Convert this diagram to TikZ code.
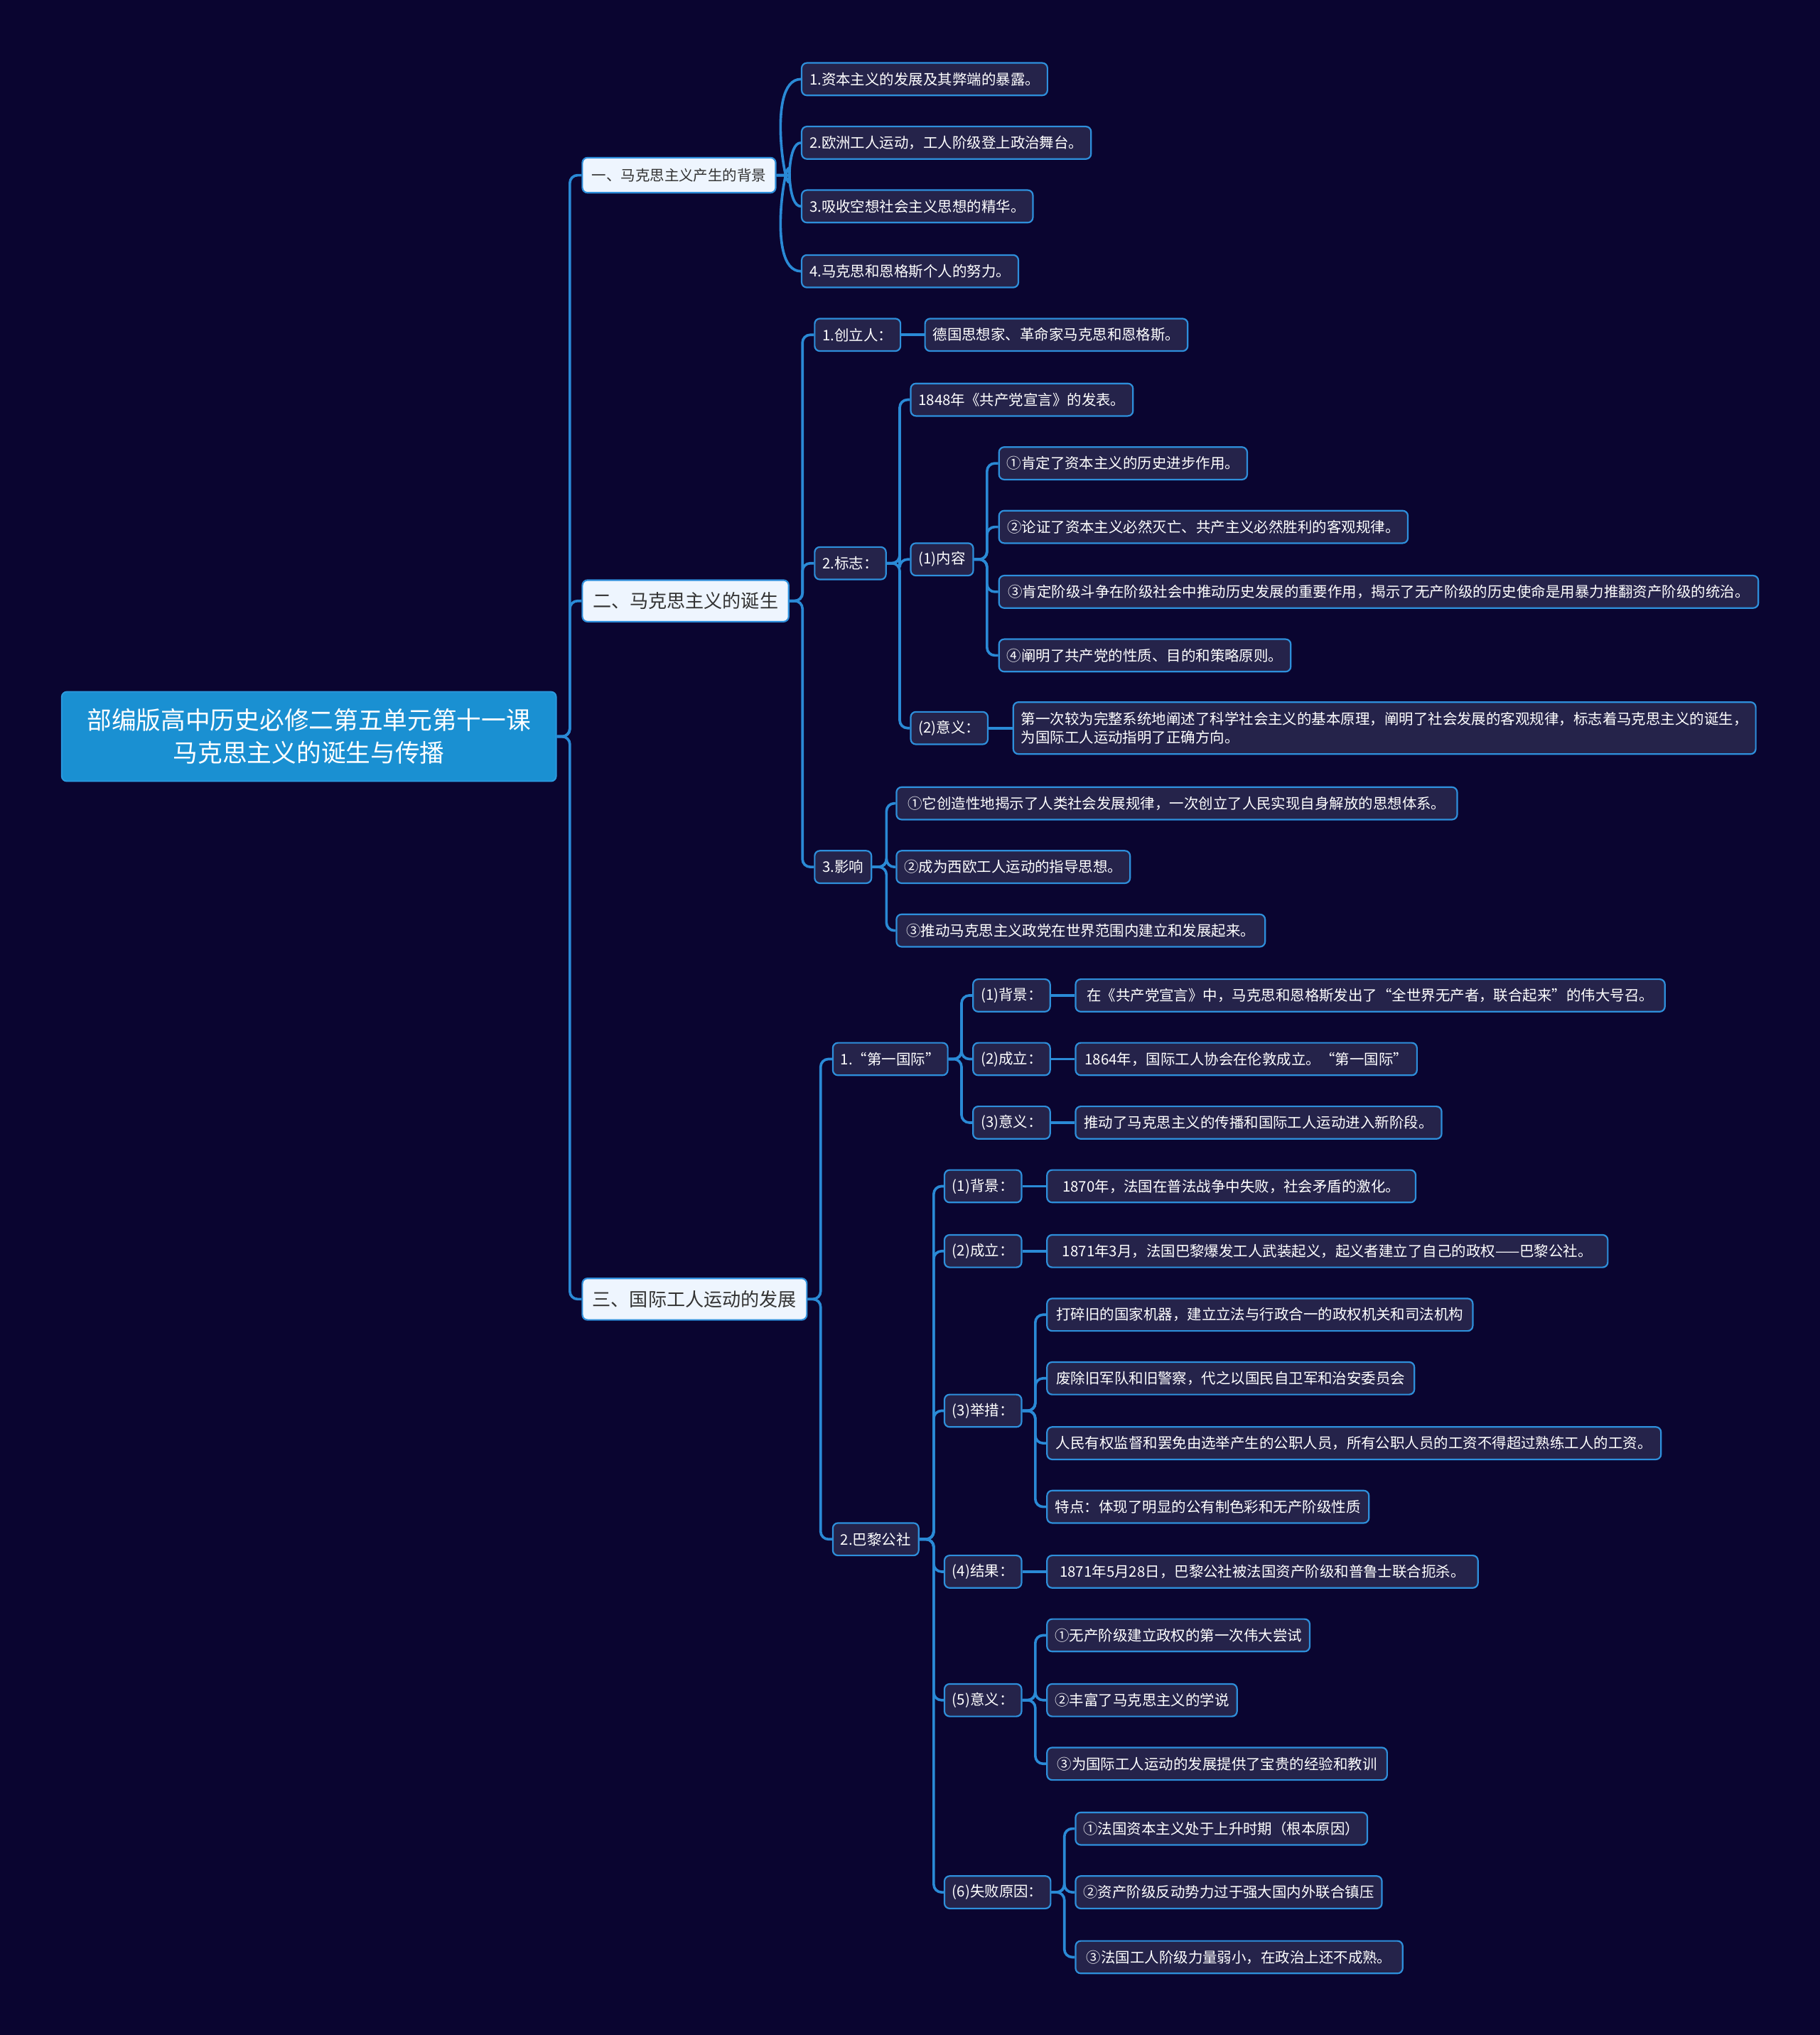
\documentclass[tikz,border=0pt]{standalone}
\usepackage{fontspec}
\newfontfamily\cjk{Noto Sans CJK SC}
\definecolor{bgc}{HTML}{0A0530}
\definecolor{nodefill}{HTML}{25234A}
\definecolor{nodeborder}{HTML}{2E8FDB}
\definecolor{linkc}{HTML}{2A8AD6}
\definecolor{lonefill}{HTML}{EEF5FE}
\definecolor{lonetext}{HTML}{333333}
\definecolor{rootfill}{HTML}{1A90D2}
\definecolor{rootborder}{HTML}{2C9BE0}
\tikzset{
  leaf/.style={font=\cjk\fontsize{11.2}{14}\selectfont, text=white, fill=nodefill, draw=nodeborder,
    line width=1.2pt, rounded corners=4pt, anchor=west, minimum height=25pt, inner xsep=6pt, inner ysep=0pt},
  lone/.style={leaf, fill=lonefill, text=lonetext, minimum height=32pt, font=\cjk\fontsize{14.3}{17}\selectfont},
  lonesmall/.style={lone, minimum height=27pt, font=\cjk\fontsize{11.2}{14}\selectfont},
  rootbox/.style={font=\cjk\fontsize{19}{25}\selectfont, text=white, fill=rootfill, draw=rootborder,
    line width=1pt, rounded corners=4pt, anchor=west, align=center, inner sep=0pt},
  link/.style={draw=linkc, line width=2pt, rounded corners=6pt},
  curvelink/.style={draw=linkc, line width=2pt},
}
\begin{document}
\begin{tikzpicture}[x=1pt,y=-1pt]
\fill[bgc] (0,0) rectangle (1402,1568);
\useasboundingbox (0,0) rectangle (1402,1568);

% root
\node[rootbox, minimum width=381pt, minimum height=69pt] (root) at (47,567.5) {部编版高中历史必修二第五单元第十一课\\马克思主义的诞生与传播};

% level 1
\node[lonesmall, minimum width=149pt] (la) at (448,135) {一、马克思主义产生的背景};
\node[lone, minimum width=159pt] (lb) at (448,463) {二、马克思主义的诞生};
\node[lone, minimum width=173pt] (lc) at (448,1001) {三、国际工人运动的发展};

% branch one
\node[leaf, minimum width=188pt] (a1) at (617,61) {1.资本主义的发展及其弊端的暴露。};
\node[leaf, minimum width=221pt] (a2) at (617,110) {2.欧洲工人运动，工人阶级登上政治舞台。};
\node[leaf, minimum width=177pt] (a3) at (617,159) {3.吸收空想社会主义思想的精华。};
\node[leaf, minimum width=165pt] (a4) at (617,209) {4.马克思和恩格斯个人的努力。};

% branch two
\node[leaf, minimum width=64pt] (b1) at (627,258) {1.创立人：};
\node[leaf, minimum width=201pt] (b1x) at (712,258) {德国思想家、革命家马克思和恩格斯。};
\node[leaf, minimum width=54pt] (b2) at (627,434) {2.标志：};
\node[leaf, minimum width=171pt] (b2a) at (701,308) {1848年《共产党宣言》的发表。};
\node[leaf, minimum width=48pt] (b2b) at (701,431) {(1)内容};
\node[leaf, minimum width=191pt] (c1) at (769,357) {①肯定了资本主义的历史进步作用。};
\node[leaf, minimum width=315pt] (c2) at (769,406) {②论证了资本主义必然灭亡、共产主义必然胜利的客观规律。};
\node[leaf, minimum width=585pt] (c3) at (769,456) {③肯定阶级斗争在阶级社会中推动历史发展的重要作用，揭示了无产阶级的历史使命是用暴力推翻资产阶级的统治。};
\node[leaf, minimum width=223pt] (c4) at (769,505) {④阐明了共产党的性质、目的和策略原则。};
\node[leaf, minimum width=59pt] (b2c) at (701,561) {(2)意义：};
\node[leaf, minimum width=572pt, minimum height=40pt, align=left] (b2cx) at (780,561) {第一次较为完整系统地阐述了科学社会主义的基本原理，阐明了社会发展的客观规律，标志着马克思主义的诞生，\\为国际工人运动指明了正确方向。};
\node[leaf, minimum width=42pt] (b3) at (627,668) {3.影响};
\node[leaf, minimum width=432pt] (d1) at (690,619) {①它创造性地揭示了人类社会发展规律，一次创立了人民实现自身解放的思想体系。};
\node[leaf, minimum width=179pt] (d2) at (690,668) {②成为西欧工人运动的指导思想。};
\node[leaf, minimum width=284pt] (d3) at (690,717) {③推动马克思主义政党在世界范围内建立和发展起来。};

% branch three
\node[leaf, minimum width=87pt] (e1) at (641,816) {1.“第一国际”};
\node[leaf, minimum width=58pt] (e1a) at (749,767) {(1)背景：};
\node[leaf, minimum width=454pt] (e1ax) at (828,767) {在《共产党宣言》中，马克思和恩格斯发出了“全世界无产者，联合起来”的伟大号召。};
\node[leaf, minimum width=58pt] (e1b) at (749,816) {(2)成立：};
\node[leaf, minimum width=263pt] (e1bx) at (828,816) {1864年，国际工人协会在伦敦成立。“第一国际”};
\node[leaf, minimum width=58pt] (e1c) at (749,865) {(3)意义：};
\node[leaf, minimum width=282pt] (e1cx) at (828,865) {推动了马克思主义的传播和国际工人运动进入新阶段。};

\node[leaf, minimum width=64pt] (f) at (641,1186) {2.巴黎公社};
\node[leaf, minimum width=58pt] (f1) at (727,914) {(1)背景：};
\node[leaf, minimum width=284pt] (f1x) at (806,914) {1870年，法国在普法战争中失败，社会矛盾的激化。};
\node[leaf, minimum width=58pt] (f2) at (727,964) {(2)成立：};
\node[leaf, minimum width=432pt] (f2x) at (806,964) {1871年3月，法国巴黎爆发工人武装起义，起义者建立了自己的政权——巴黎公社。};
\node[leaf, minimum width=58pt] (f3) at (727,1087) {(3)举措：};
\node[leaf, minimum width=328pt] (g1) at (806,1013) {打碎旧的国家机器，建立立法与行政合一的政权机关和司法机构};
\node[leaf, minimum width=283pt] (g2) at (806,1062) {废除旧军队和旧警察，代之以国民自卫军和治安委员会};
\node[leaf, minimum width=473pt] (g3) at (806,1112) {人民有权监督和罢免由选举产生的公职人员，所有公职人员的工资不得超过熟练工人的工资。};
\node[leaf, minimum width=248pt] (g4) at (806,1161) {特点：体现了明显的公有制色彩和无产阶级性质};
\node[leaf, minimum width=58pt] (f4) at (727,1211) {(4)结果：};
\node[leaf, minimum width=332pt] (f4x) at (806,1211) {1871年5月28日，巴黎公社被法国资产阶级和普鲁士联合扼杀。};
\node[leaf, minimum width=58pt] (f5) at (727,1310) {(5)意义：};
\node[leaf, minimum width=201pt] (h1) at (806,1260) {①无产阶级建立政权的第一次伟大尝试};
\node[leaf, minimum width=145pt] (h2) at (806,1310) {②丰富了马克思主义的学说};
\node[leaf, minimum width=262pt] (h3) at (806,1359) {③为国际工人运动的发展提供了宝贵的经验和教训};
\node[leaf, minimum width=81pt] (f6) at (727,1458) {(6)失败原因：};
\node[leaf, minimum width=224pt] (i1) at (828,1409) {①法国资本主义处于上升时期（根本原因）};
\node[leaf, minimum width=234pt] (i2) at (828,1458) {②资产阶级反动势力过于强大国内外联合镇压};
\node[leaf, minimum width=252pt] (i3) at (828,1508) {③法国工人阶级力量弱小，在政治上还不成熟。};

% connectors
\begin{scope}[on background layer/.style={}]
\foreach \c in {la,lb,lc} \draw[link] (root.east) -- ++(10,0) |- (\c.west);
\foreach \c in {a1,a2} \draw[curvelink] (la.east) -- ++(10,0) to[out=-90,in=180] (\c.west);
\foreach \c in {a3,a4} \draw[curvelink] (la.east) -- ++(10,0) to[out=90,in=180] (\c.west);
\foreach \c in {b1,b2,b3} \draw[link] (lb.east) -- ++(10,0) |- (\c.west);
\draw[link] (b1.east) -- (b1x.west);
\foreach \c in {b2a,b2b,b2c} \draw[link] (b2.east) -- ++(10,0) |- (\c.west);
\foreach \c in {c1,c2,c3,c4} \draw[link] (b2b.east) -- ++(10,0) |- (\c.west);
\draw[link] (b2c.east) -- (b2cx.west);
\foreach \c in {d1,d2,d3} \draw[link] (b3.east) -- ++(11,0) |- (\c.west);
\foreach \c in {e1,f} \draw[link] (lc.east) -- ++(10,0) |- (\c.west);
\foreach \c in {e1a,e1b,e1c} \draw[link] (e1.east) -- ++(10,0) |- (\c.west);
\draw[link] (e1a.east) -- (e1ax.west);
\draw[link] (e1b.east) -- (e1bx.west);
\draw[link] (e1c.east) -- (e1cx.west);
\foreach \c in {f1,f2,f3,f4,f5,f6} \draw[link] (f.east) -- ++(11,0) |- (\c.west);
\draw[link] (f1.east) -- (f1x.west);
\draw[link] (f2.east) -- (f2x.west);
\draw[link] (f4.east) -- (f4x.west);
\foreach \c in {g1,g2,g3,g4} \draw[link] (f3.east) -- ++(10,0) |- (\c.west);
\foreach \c in {h1,h2,h3} \draw[link] (f5.east) -- ++(10,0) |- (\c.west);
\foreach \c in {i1,i2,i3} \draw[link] (f6.east) -- ++(10,0) |- (\c.west);
\end{scope}
\end{tikzpicture}
\end{document}
